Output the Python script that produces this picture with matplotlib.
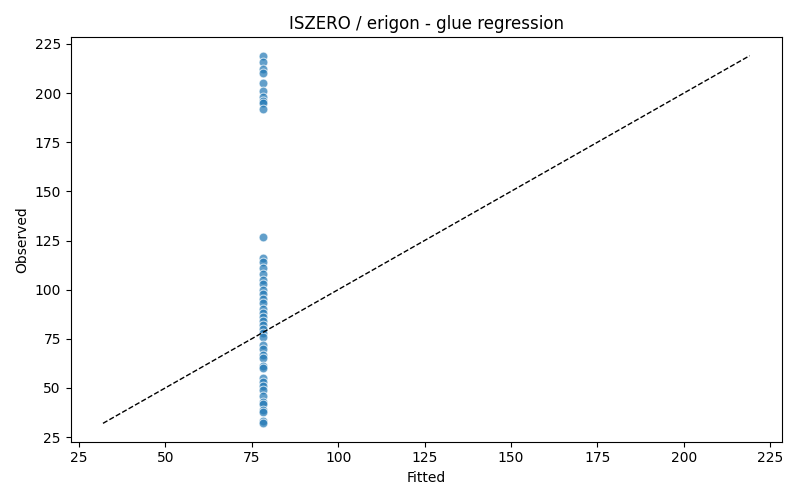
import matplotlib
matplotlib.use('Agg')
import matplotlib.pyplot as plt

observed = [219, 216, 212, 210, 205, 201, 198, 196, 195, 192,
            127, 116, 114, 111, 108, 105, 103, 100, 98, 95,
            93, 90, 88, 86, 84, 82, 80, 78, 76, 72,
            70, 67, 65, 61, 60, 55, 53, 51, 49, 46,
            43, 42, 39, 38, 33, 32]
fitted_value = 78.2
fitted = [fitted_value] * len(observed)

fig, ax = plt.subplots(figsize=(8, 5), dpi=100)
ax.scatter(fitted, observed, s=40, alpha=0.7, color='#1f77b4', edgecolor='white', linewidth=0.75)

lo = min(observed)
hi = max(observed)
ax.plot([lo, hi], [lo, hi], color='black', linestyle='--', linewidth=1)

ax.set_xticks([25, 50, 75, 100, 125, 150, 175, 200, 225])
ax.set_yticks([25, 50, 75, 100, 125, 150, 175, 200, 225])
ax.set_xlabel('Fitted')
ax.set_ylabel('Observed')
ax.set_title('ISZERO / erigon - glue regression')
plt.tight_layout()
plt.savefig('out.png')
